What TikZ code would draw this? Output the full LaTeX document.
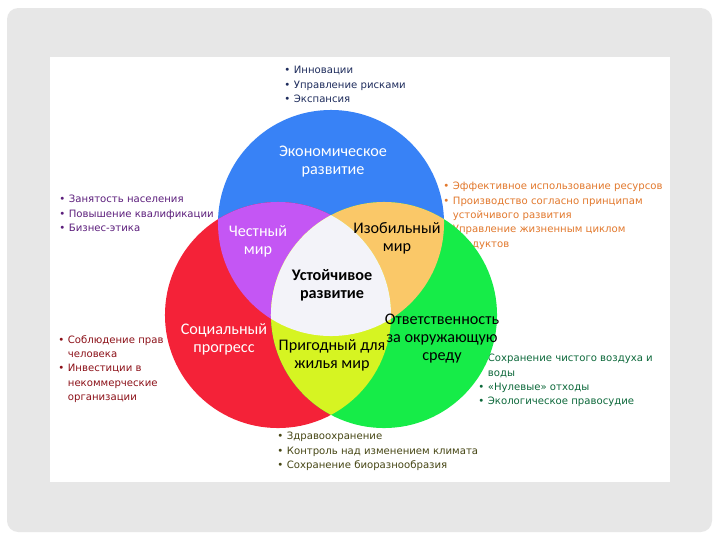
\documentclass[tikz,border=0pt]{standalone}
\usepackage{fontspec}
\setmainfont{Carlito}
\newfontfamily\listfont{DejaVu Sans}
\usetikzlibrary{positioning}
\definecolor{FrameGray}{RGB}{231,231,231}
\definecolor{EcoBlue}{RGB}{56,130,246}
\definecolor{SocRed}{RGB}{244,34,56}
\definecolor{EnvGreen}{RGB}{22,236,72}
\definecolor{HonestPurple}{RGB}{196,86,244}
\definecolor{RichOrange}{RGB}{250,200,104}
\definecolor{LiveLime}{RGB}{214,244,34}
\definecolor{CoreWhite}{RGB}{243,243,249}
\definecolor{NavyText}{RGB}{30,44,92}
\definecolor{PurpleText}{RGB}{92,30,124}
\definecolor{OrangeText}{RGB}{226,120,44}
\definecolor{RedText}{RGB}{140,16,24}
\definecolor{GreenText}{RGB}{12,104,58}
\definecolor{OliveText}{RGB}{70,70,20}
\newcommand{\bl}[1]{\makebox[0.24cm][l]{•}#1}
\newcommand{\cl}[1]{\hspace*{0.24cm}#1}
\newcommand{\rad}{2.825cm}

\begin{document}
\begin{tikzpicture}[x=0.025cm, y=-0.025cm,
  lbl/.style={font=\fontsize{11.5}{12.8}\selectfont, align=center, inner sep=0},
  blist/.style={font=\listfont\fontsize{7.2}{10.2}\selectfont, align=left, anchor=north west, inner sep=0}]
  \useasboundingbox (0,0) rectangle (720,540);
  \fill[white] (0,0) rectangle (720,540);
  \fill[FrameGray, rounded corners=8pt] (7,8) rectangle (712,532);
  \fill[white] (50,57) rectangle (670,482);

  % bullet lists (behind the circles)
  \node[blist, text=NavyText] (ecolist) at (284,66) {\bl{Инновации}\\ \bl{Управление рисками}\\ \bl{Экспансия}};
  \node[blist, text=PurpleText] (honestlist) at (59,195) {\bl{Занятость населения}\\ \bl{Повышение квалификации}\\ \bl{Бизнес-этика}};
  \node[blist, text=OrangeText] (richlist) at (443,182) {\bl{Эффективное использование ресурсов}\\ \bl{Производство согласно принципам}\\ \cl{устойчивого развития}\\ \bl{Управление жизненным циклом}\\ \cl{продуктов}};
  \node[blist, text=RedText] (soclist) at (58,335) {\bl{Соблюдение прав}\\ \cl{человека}\\ \bl{Инвестиции в}\\ \cl{некоммерческие}\\ \cl{организации}};
  \node[blist, text=GreenText] (envlist) at (478,354) {\bl{Сохранение чистого воздуха и}\\ \cl{воды}\\ \bl{«Нулевые» отходы}\\ \bl{Экологическое правосудие}};
  \node[blist, text=OliveText] (livelist) at (277,432) {\bl{Здравоохранение}\\ \bl{Контроль над изменением климата}\\ \bl{Сохранение биоразнообразия}};

  % circles
  \coordinate (eco) at (331,223);
  \coordinate (soc) at (278,315);
  \coordinate (env) at (384,315);
  \fill[EcoBlue] (eco) circle[radius=\rad];
  \fill[SocRed] (soc) circle[radius=\rad];
  \fill[EnvGreen] (env) circle[radius=\rad];
  \begin{scope}
    \clip (eco) circle[radius=\rad];
    \fill[HonestPurple] (soc) circle[radius=\rad];
    \fill[RichOrange] (env) circle[radius=\rad];
  \end{scope}
  \begin{scope}
    \clip (soc) circle[radius=\rad];
    \fill[LiveLime] (env) circle[radius=\rad];
    \clip (env) circle[radius=\rad];
    \fill[CoreWhite] (eco) circle[radius=\rad];
  \end{scope}

  % labels
  \node[lbl, text=white] (ecolbl) at (333,162) {Экономическое\\развитие};
  \node[lbl, text=white] (honestlbl) at (258,241) {Честный\\мир};
  \node[lbl] (richlbl) at (397,238) {Изобильный\\мир};
  \node[lbl, font=\fontsize{11.5}{12.8}\selectfont\bfseries] (corelbl) at (332,285) {Устойчивое\\развитие};
  \node[lbl, text=white] (soclbl) at (224,339) {Социальный\\прогресс};
  \node[lbl] (livelbl) at (332,355) {Пригодный для\\жилья мир};
  \node[lbl] (envlbl) at (442,339) {Ответственность\\за окружающую\\среду};
\end{tikzpicture}
\end{document}
